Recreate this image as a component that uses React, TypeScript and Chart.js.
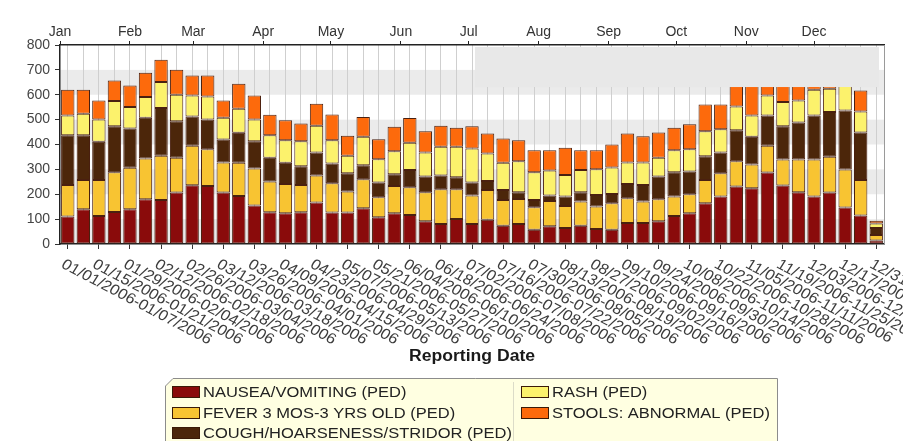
import React, { useEffect, useRef } from 'react';
import { Chart, registerables } from 'chart.js';

Chart.register(...registerables);

const WEEK_LABELS = [
  '01/01/2006-01/07/2006', '01/08/2006-01/14/2006', '01/15/2006-01/21/2006', '01/22/2006-01/28/2006',
  '01/29/2006-02/04/2006', '02/05/2006-02/11/2006', '02/12/2006-02/18/2006', '02/19/2006-02/25/2006',
  '02/26/2006-03/04/2006', '03/05/2006-03/11/2006', '03/12/2006-03/18/2006', '03/19/2006-03/25/2006',
  '03/26/2006-04/01/2006', '04/02/2006-04/08/2006', '04/09/2006-04/15/2006', '04/16/2006-04/22/2006',
  '04/23/2006-04/29/2006', '04/30/2006-05/06/2006', '05/07/2006-05/13/2006', '05/14/2006-05/20/2006',
  '05/21/2006-05/27/2006', '05/28/2006-06/03/2006', '06/04/2006-06/10/2006', '06/11/2006-06/17/2006',
  '06/18/2006-06/24/2006', '06/25/2006-07/01/2006', '07/02/2006-07/08/2006', '07/09/2006-07/15/2006',
  '07/16/2006-07/22/2006', '07/23/2006-07/29/2006', '07/30/2006-08/05/2006', '08/06/2006-08/12/2006',
  '08/13/2006-08/19/2006', '08/20/2006-08/26/2006', '08/27/2006-09/02/2006', '09/03/2006-09/09/2006',
  '09/10/2006-09/16/2006', '09/17/2006-09/23/2006', '09/24/2006-09/30/2006', '10/01/2006-10/07/2006',
  '10/08/2006-10/14/2006', '10/15/2006-10/21/2006', '10/22/2006-10/28/2006', '10/29/2006-11/04/2006',
  '11/05/2006-11/11/2006', '11/12/2006-11/18/2006', '11/19/2006-11/25/2006', '11/26/2006-12/02/2006',
  '12/03/2006-12/09/2006', '12/10/2006-12/16/2006', '12/17/2006-12/23/2006', '12/24/2006-12/30/2006',
  '12/31/2006-12/31/2006',
];

const MONTHS = ['Jan', 'Feb', 'Mar', 'Apr', 'May', 'Jun', 'Jul', 'Aug', 'Sep', 'Oct', 'Nov', 'Dec'];
const MONTH_START_DAYS = [0, 31, 59, 90, 120, 151, 181, 212, 243, 273, 304, 334];
const YEAR_DAYS = 365;

const NAUSEA = [111, 140, 113, 129, 140, 180, 177, 207, 236, 233, 207, 193, 155, 128, 124, 128, 167, 127, 127, 144, 108, 124, 117, 91, 80, 101, 80, 97, 73, 80, 57, 71, 64, 73, 60, 57, 84, 84, 91, 113, 124, 164, 191, 231, 224, 287, 235, 208, 191, 207, 147, 115, 14];
const FEVER = [126, 117, 144, 159, 167, 164, 178, 140, 159, 148, 121, 134, 149, 123, 117, 109, 108, 117, 84, 116, 80, 109, 111, 117, 140, 119, 115, 120, 104, 101, 91, 102, 89, 98, 91, 107, 100, 87, 89, 78, 76, 93, 93, 102, 96, 108, 105, 132, 149, 144, 153, 142, 22];
const COUGH = [200, 180, 154, 185, 157, 164, 192, 146, 118, 120, 92, 120, 109, 96, 86, 76, 93, 80, 73, 57, 59, 47, 69, 63, 55, 48, 52, 36, 40, 27, 29, 22, 38, 37, 46, 37, 57, 66, 91, 97, 91, 96, 84, 124, 111, 122, 133, 148, 177, 180, 237, 191, 28];
const RASH = [80, 87, 90, 102, 87, 83, 104, 107, 84, 92, 88, 97, 88, 90, 90, 100, 107, 93, 71, 114, 94, 93, 110, 97, 116, 123, 137, 111, 110, 125, 111, 100, 86, 89, 104, 107, 87, 91, 76, 89, 90, 100, 93, 96, 86, 80, 98, 89, 103, 93, 100, 85, 18];
const STOOLS = [103, 96, 76, 82, 86, 97, 90, 101, 80, 84, 69, 100, 96, 83, 80, 71, 89, 104, 80, 80, 80, 98, 100, 85, 84, 76, 89, 80, 97, 84, 89, 82, 110, 80, 76, 92, 116, 105, 101, 90, 100, 108, 100, 100, 125, 60, 85, 80, 70, 70, 70, 84, 11];

const SERIES_LABELS = [
  'NAUSEA/VOMITING (PED)',
  'FEVER 3 MOS-3 YRS OLD (PED)',
  'COUGH/HOARSENESS/STRIDOR (PED)',
  'RASH (PED)',
  'STOOLS: ABNORMAL (PED)',
];
const SERIES_COLORS = ['#8a0b0b', '#f8c432', '#4c260a', '#fcf26c', '#fd6a0c'];
const SERIES_DATA = [NAUSEA, FEVER, COUGH, RASH, STOOLS];

const X_TITLE = 'Reporting Date';
const FONT = '"Liberation Sans", Arial, Helvetica, sans-serif';

const decorPlugin = {
  id: 'decor',
  beforeDraw(chart: any) {
    const { ctx, chartArea: a, scales } = chart;
    const y = scales.y;
    ctx.save();
    ctx.fillStyle = '#ffffff';
    ctx.fillRect(0, 0, chart.width, chart.height);
    ctx.fillStyle = '#ebebeb';
    for (let v = 0; v < 800; v += 200) {
      const top = y.getPixelForValue(v + 100);
      const bot = y.getPixelForValue(v);
      ctx.fillRect(a.left, top, a.right - a.left, bot - top);
    }
    ctx.restore();
  },
  afterDatasetsDraw(chart: any) {
    const { ctx, chartArea: a, scales } = chart;
    ctx.save();
    const top = a.top + 2;
    const bot = scales.y.getPixelForValue(631);
    ctx.fillStyle = '#e8e8e8';
    ctx.fillRect(475, top, a.right - 5 - 475, bot - top);
    ctx.strokeStyle = '#9a9a9a';
    ctx.lineWidth = 1;
    ctx.beginPath();
    ctx.moveTo(a.right + 0.5, a.top);
    ctx.lineTo(a.right + 0.5, a.bottom);
    ctx.stroke();
    ctx.restore();
  },
  afterDraw(chart: any) {
    const { ctx, chartArea: a, scales } = chart;
    const xs = scales.x;
    ctx.save();
    ctx.font = `15px ${FONT}`;
    ctx.fillStyle = '#3c3c3c';
    ctx.textBaseline = 'top';
    ctx.textAlign = 'left';
    WEEK_LABELS.forEach((lab, i) => {
      if (i % 2 !== 0) return;
      const px = xs.getPixelForValue(i);
      ctx.save();
      ctx.translate(px - 1, a.bottom + 13);
      ctx.scale(1.1, 1);
      ctx.rotate(Math.PI / 6);
      ctx.fillText(lab, 0, 0);
      ctx.restore();
    });
    ctx.save();
    ctx.font = `bold 16px ${FONT}`;
    ctx.fillStyle = '#1a1a1a';
    ctx.textBaseline = 'alphabetic';
    ctx.textAlign = 'center';
    ctx.translate((a.left + a.right) / 2, 361);
    ctx.scale(1.1, 1);
    ctx.fillText(X_TITLE, 0, 0);
    ctx.restore();

    const L = 165, T = 378, R = 777, B = 446;
    ctx.fillStyle = '#ffffe1';
    ctx.strokeStyle = '#8c8c8c';
    ctx.lineWidth = 1;
    ctx.beginPath();
    ctx.moveTo(L + 0.5, T + 8);
    ctx.lineTo(L + 8, T + 0.5);
    ctx.lineTo(R + 0.5, T + 0.5);
    ctx.lineTo(R + 0.5, B);
    ctx.lineTo(L + 0.5, B);
    ctx.closePath();
    ctx.fill();
    ctx.stroke();
    ctx.strokeStyle = '#dcdcc8';
    ctx.beginPath();
    ctx.moveTo(513.5, T + 4);
    ctx.lineTo(513.5, B);
    ctx.stroke();

    const rows = [392, 413, 433];
    const cols = [172, 521];
    ctx.font = `15px ${FONT}`;
    ctx.textBaseline = 'middle';
    ctx.textAlign = 'left';
    SERIES_LABELS.forEach((lab, i) => {
      const col = i < 3 ? 0 : 1;
      const row = i < 3 ? i : i - 3;
      const sx = cols[col];
      const cy = rows[row];
      ctx.fillStyle = SERIES_COLORS[i];
      ctx.fillRect(sx, cy - 5.5, 28, 11);
      ctx.strokeStyle = '#3a1a08';
      ctx.strokeRect(sx + 0.5, cy - 5.5, 27, 11);
      ctx.fillStyle = '#222222';
      ctx.save();
      ctx.translate(sx + 31, cy + 1);
      ctx.scale(1.1, 1);
      ctx.fillText(lab, 0, 0);
      ctx.restore();
    });
    ctx.restore();
  },
};

export default function App() {
  const ref = useRef<HTMLCanvasElement>(null);
  useEffect(() => {
    const canvas = ref.current;
    if (!canvas) return;
    const chart = new Chart(canvas, {
      type: 'bar',
      data: {
        labels: WEEK_LABELS,
        datasets: SERIES_DATA.map((d, i) => ({
          label: SERIES_LABELS[i],
          data: d,
          backgroundColor: SERIES_COLORS[i],
          borderColor: '#4a2010',
          borderWidth: 1,
          borderSkipped: false,
          barPercentage: 0.86,
          categoryPercentage: 1,
          xAxisID: 'x',
          yAxisID: 'y',
        })),
      },
      options: {
        responsive: false,
        animation: false,
        devicePixelRatio: 1,
        layout: { padding: { left: 0, top: 0, right: 19, bottom: 0 } },
        plugins: {
          legend: { display: false },
          tooltip: { enabled: false },
        },
        scales: {
          x: {
            type: 'category',
            position: 'bottom',
            stacked: true,
            offset: true,
            ticks: { display: false, autoSkip: false },
            grid: {
              offset: false,
              color: '#cfcfcf',
              lineWidth: 1,
              drawTicks: true,
              tickLength: 5,
              tickColor: (c: any) => (c.index % 2 === 0 ? '#333333' : 'rgba(0,0,0,0)'),
            },
            border: { color: '#222222', width: 1.5 },
            afterFit: (s: any) => { s.height = 441 - 244; },
          },
          xTop: {
            type: 'linear',
            position: 'top',
            min: 0,
            max: YEAR_DAYS,
            offset: false,
            afterBuildTicks: (s: any) => { s.ticks = MONTH_START_DAYS.map((v) => ({ value: v })); },
            ticks: {
              callback: (_v: any, i: number) => MONTHS[i],
              font: { size: 14, family: FONT },
              color: '#333333',
              padding: 0,
              maxRotation: 0,
              autoSkip: false,
            },
            grid: { offset: false, drawOnChartArea: false, drawTicks: true, tickLength: 4, tickColor: '#222222' },
            border: { color: '#222222', width: 1.5 },
            afterFit: (s: any) => { s.height = 45; },
          },
          y: {
            stacked: true,
            min: 0,
            max: 800,
            ticks: { stepSize: 100, font: { size: 14, family: FONT }, color: '#444444', padding: 5 },
            grid: { drawOnChartArea: false, drawTicks: true, tickLength: 5, tickColor: '#333333' },
            border: { color: '#222222', width: 1.5 },
            afterFit: (s: any) => { s.width = 60; },
          },
        },
      },
      plugins: [decorPlugin],
    } as any);
    return () => chart.destroy();
  }, []);
  return (
    <div style={{ position: 'absolute', left: 0, top: 0, width: 903, height: 441, background: '#fff' }}>
      <canvas ref={ref} width={903} height={441} style={{ display: 'block' }} />
    </div>
  );
}
